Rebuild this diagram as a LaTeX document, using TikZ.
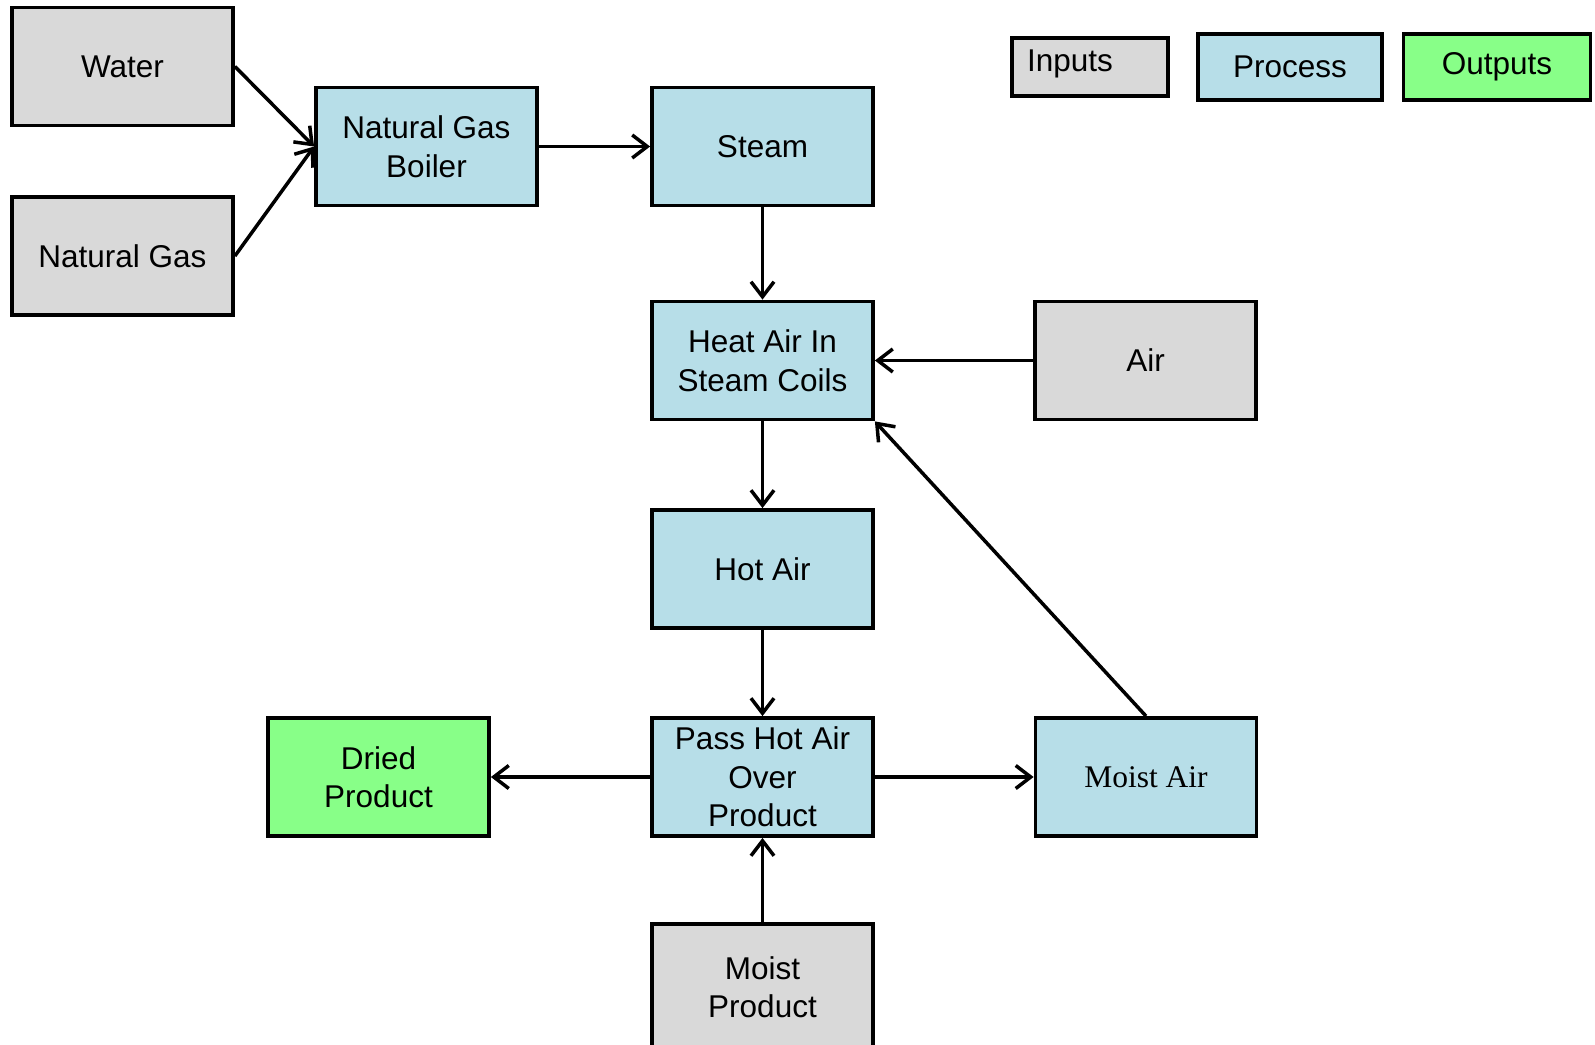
\documentclass[tikz,border=0pt]{standalone}
\usepackage{fontspec}
\setmainfont{Liberation Sans}
\newfontfamily\seriffont{Liberation Serif}
\usetikzlibrary{arrows.meta}
\definecolor{ingray}{HTML}{D9D9D9}
\definecolor{procblue}{HTML}{B7DEE8}
\definecolor{outgreen}{HTML}{88FF88}
\tikzset{
  box/.style={draw=black, line width=3.8pt, minimum width=221pt, minimum height=118pt, align=center, inner sep=2pt,
    font=\fontsize{31.5}{38.5}\selectfont},
  inbox/.style={box, fill=ingray},
  procbox/.style={box, fill=procblue},
  outbox/.style={box, fill=outgreen},
  conn/.style={line width=3.5pt, -{Straight Barb[length=15pt,width=23pt,line width=3.5pt]}},
}
\begin{document}
\begin{tikzpicture}[x=1pt,y=-1pt]
\useasboundingbox (0,0) rectangle (1595,1044);
\begin{scope}
\clip (0,0) rectangle (1595,1044);
% nodes
\node[inbox] (water) at (122.5,66.5) {Water};
\node[inbox] (gas) at (122.5,256) {Natural Gas};
\node[procbox] (boiler) at (426.5,146.5) {Natural Gas\\Boiler};
\node[procbox] (steam) at (762.5,146.5) {Steam};
\node[procbox] (heat) at (762.5,360.5) {Heat Air In\\Steam Coils};
\node[inbox] (air) at (1145.5,360.5) {Air};
\node[procbox] (hot) at (762.5,569) {Hot Air};
\node[procbox] (pass) at (762.5,777) {Pass Hot Air\\Over\\Product};
\node[outbox] (dried) at (378.5,777) {Dried\\Product};
\node[procbox, font=\seriffont\fontsize{31.5}{38.5}\selectfont] (moistair) at (1146,777) {Moist Air};
\node[inbox, minimum height=126pt] (moistprod) at (762.5,987) {Moist\\Product};
% legend
\node[inbox, minimum width=156pt, minimum height=58pt] (leginputs) at (1090,67) {};
\node[font=\fontsize{31.5}{38.5}\selectfont] (leginputstext) at (1070,64) {Inputs};
\node[procbox, minimum width=184pt, minimum height=66pt] (legprocess) at (1290,67) {Process};
\node[outbox, minimum width=187pt, minimum height=66pt] (legoutputs) at (1497,67) {Outputs};
% connectors
\draw[conn] (water.east) -- (boiler.west);
\draw[conn] (gas.east) -- (boiler.west);
\draw[conn] (boiler) -- (steam);
\draw[conn] (steam) -- (heat);
\draw[conn] (air) -- (heat);
\draw[conn] (heat) -- (hot);
\draw[conn] (hot) -- (pass);
\draw[conn] (pass) -- (dried);
\draw[conn] (pass) -- (moistair);
\draw[conn] (moistprod) -- (pass);
\draw[conn] (moistair.north) -- (heat.south east);
\end{scope}
\end{tikzpicture}
\end{document}
